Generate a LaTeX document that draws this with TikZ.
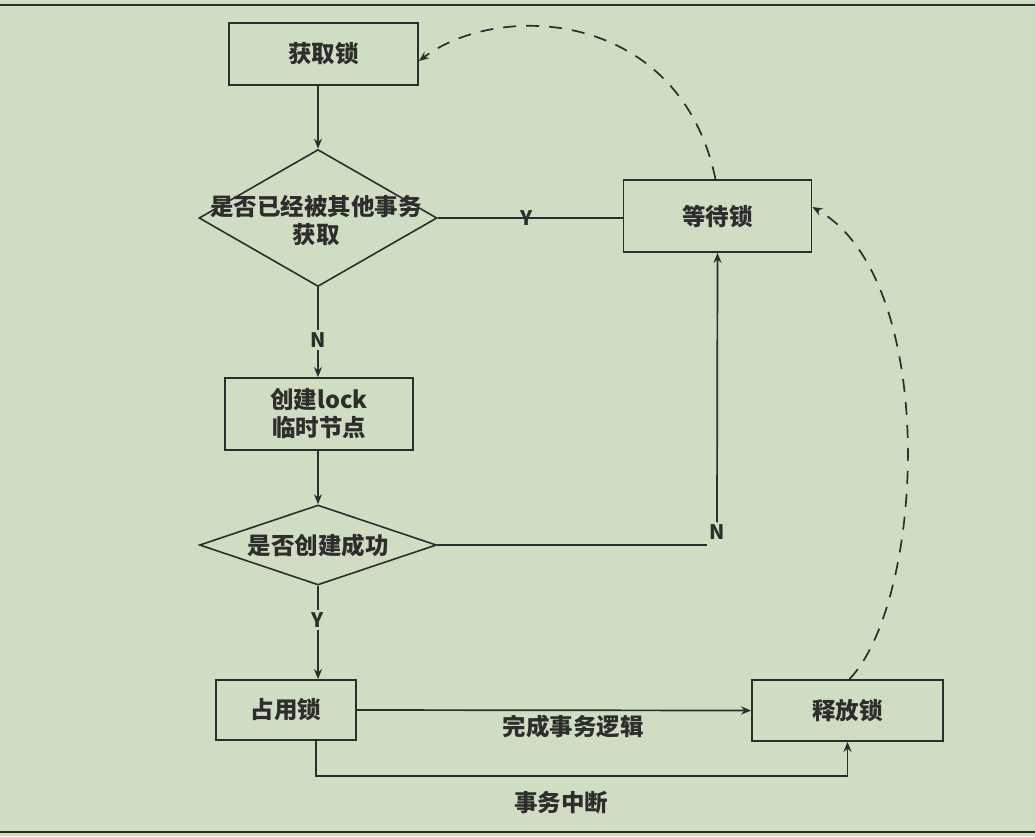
\documentclass[tikz,border=0pt]{standalone}
\usepackage{fontspec}
\setmainfont{Noto Sans CJK SC}
\usetikzlibrary{shapes.geometric,arrows.meta}
\definecolor{bg}{RGB}{207,222,195}
\definecolor{ink}{RGB}{45,45,45}
\begin{document}
\begin{tikzpicture}[x=1pt,y=-1pt,
  every node/.style={font=\fontsize{23.5}{28}\selectfont\bfseries, text=ink},
  box/.style={draw=ink, line width=1.8pt, rectangle, inner sep=0pt},
  dia/.style={draw=ink, line width=1.6pt, diamond, inner sep=0pt},
  lab/.style={fill=bg, inner sep=2pt, font=\fontsize{20}{24}\selectfont\bfseries},
  conn/.style={draw=ink, line width=1.7pt},
  arr/.style={conn, -{Stealth[length=10pt,width=8pt]}},
  dasharr/.style={draw=ink, line width=1.7pt, dash pattern=on 13pt off 10pt, -{Stealth[length=10pt,width=8pt]}}
]
\fill[bg] (0,0) rectangle (1035,836);
\useasboundingbox (0,0) rectangle (1035,836);
\draw[ink, line width=2.2pt] (0,5) -- (1035,5);
\draw[ink, line width=2.2pt] (0,832) -- (1035,832);

\node[box, minimum width=189pt, minimum height=62pt] (get) at (323.5,54) {获取锁};
\node[dia, minimum width=238pt, minimum height=137pt] (d1) at (318,218) {};
\node[align=center] (d1t) at (316,221) {是否已经被其他事务\\获取};
\node[box, minimum width=188pt, minimum height=72pt] (wait) at (717.5,216) {等待锁};
\node[box, minimum width=188pt, minimum height=72pt, align=center] (create) at (319,414) {创建lock\\临时节点};
\node[dia, minimum width=237pt, minimum height=80pt] (d2) at (318,545) {};
\node (d2t) at (318,546) {是否创建成功};
\node[box, minimum width=140pt, minimum height=60pt] (hold) at (286,710) {占用锁};
\node[box, minimum width=191pt, minimum height=61pt] (release) at (847.5,710.5) {释放锁};

% labels on connectors
\node[lab] (y1) at (527,218) {Y};
\node[lab] (n1) at (318,340) {N};
\node[lab] (y2) at (318,620) {Y};
\node[lab] (n2) at (717,532) {N};
\node (done) at (573,727) {完成事务逻辑};
\node (abort) at (561,803) {事务中断};

% connectors
\draw[arr] (get.south -| d1.north) -- (d1.north);
\draw[conn] (d1.east) -- (d1.east -| wait.west);
\draw[conn] (d1.south) -- (n1.north);
\draw[arr] (n1.south) -- (n1.south |- create.north);
\draw[arr] (create.south -| d2.north) -- (d2.north);
\draw[conn] (d2.east) -- (d2.east -| n2.west);
\draw[arr] (n2.north) -- (wait.south);
\draw[conn] (d2.south) -- (y2.north);
\draw[arr] (y2.south) -- (y2.south |- hold.north);
\draw[arr] (hold.east) -- (release.west);
\draw[arr] ([xshift=30pt]hold.south) -- ++(0,35) -| (release.south);

% dashed returns
\draw[dasharr] ([xshift=2pt]release.north) .. controls (925,600) and (940,280) .. ([yshift=9pt]wait.east);
\draw[dasharr] ([xshift=-2pt]wait.north) .. controls (680,10) and (500,0) .. ([yshift=-7pt]get.east);
\end{tikzpicture}
\end{document}
